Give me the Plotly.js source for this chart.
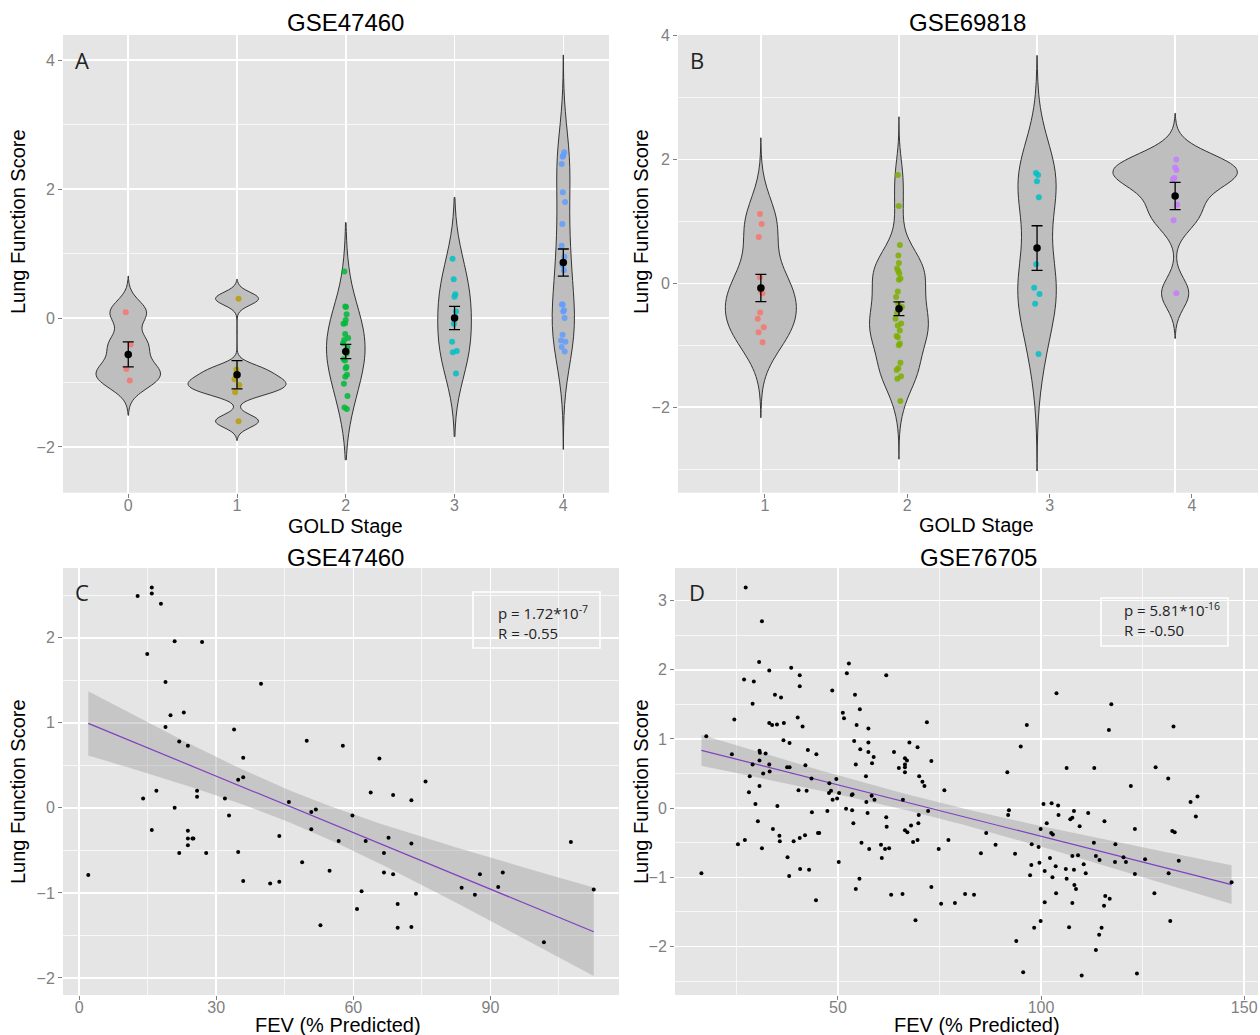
<!DOCTYPE html>
<html><head><meta charset="utf-8">
<script src="https://cdn.plot.ly/plotly-3.0.1.min.js"></script>
<style>html,body{margin:0;padding:0;background:#fff}</style>
</head><body><div id="chart" style="width:1260px;height:1035px"></div>
<script>
// ---------- Panel A (GSE47460, violins by GOLD stage) ----------
const A_stages = [0, 1, 2, 3, 4];
const A_colors = ['#F8766D', '#B79F00', '#00BA38', '#00BFC4', '#619CFF'];
const A0 = [0.09, -0.41, -0.79, -0.97];
const A1 = [0.30, -0.80, -0.95, -1.04, -1.15, -1.60];
const A2 = [0.72, 0.17, 0.18, 0.06, -0.03, -0.08, -0.09, -0.25, -0.31, -0.34, -0.39, -0.45, -0.52, -0.55, -0.64, -0.66, -0.76, -0.78, -0.88, -0.91, -1.02, -1.21, -1.39, -1.41];
const A3 = [0.92, 0.60, 0.37, 0.33, 0.10, -0.09, -0.37, -0.51, -0.53, -0.86];
const A4 = [2.57, 2.52, 2.50, 2.39, 1.95, 1.80, 1.46, 1.12, 0.95, 0.82, 0.74, 0.21, 0.21, 0.12, 0.10, 0.00, -0.26, -0.35, -0.37, -0.45, -0.52];
const A_means = [-0.565, -0.88, -0.52, 0.0, 0.86];
const A_se = [0.194, 0.22, 0.11, 0.18, 0.21];
const A_bw = [0.18, 0.10, 0.42, 0.45, 0.53];
const A_span = [[-1.51, 0.65], [-1.90, 0.60], [-2.20, 1.48], [-1.84, 1.87], [-2.04, 4.08]];

// ---------- Panel B (GSE69818) ----------
const B_stages = [1, 2, 3, 4];
const B_colors = ['#F8766D', '#7CAE00', '#00BFC4', '#C77CFF'];
const B1 = [1.12, 0.96, 0.75, 0.10, -0.07, -0.12, -0.16, -0.47, -0.57, -0.71, -0.79, -0.95];
const B2 = [1.75, 1.25, 0.62, 0.45, 0.33, 0.24, 0.20, 0.16, 0.08, 0.06, -0.13, -0.22, -0.33, -0.38, -0.48, -0.57, -0.65, -0.68, -0.76, -0.85, -0.87, -0.97, -1.00, -1.28, -1.37, -1.40, -1.50, -1.54, -1.90];
const B3 = [1.78, 1.75, 1.65, 1.39, 0.31, -0.07, -0.17, -0.33, -1.14];
const B4 = [2.00, 1.87, 1.83, 1.70, 1.68, 1.27, 1.02, -0.16];
const B_means = [-0.075, -0.41, 0.57, 1.41];
const B_se = [0.22, 0.11, 0.36, 0.22];
const B_bw = [0.41, 0.30, 0.63, 0.245];
const B_span = [[-2.17, 2.35], [-2.84, 2.69], [-3.03, 3.68], [-0.89, 2.745]];

// ---------- Panel C (GSE47460, FEV vs score) ----------
const Cx = [12.8,15.9,15.9,17.9,20.9,26.9,14.9,18.9,39.8,20.0,
  22.9,18.9,33.9,21.9,23.8,49.8,57.7,35.9,65.7,34.8,
  35.9,75.8,16.9,14.0,25.8,25.8,31.9,63.8,68.7,72.7,
  45.9,20.9,50.8,51.8,32.8,59.8,15.9,23.8,50.8,23.8,
  24.8,25.0,23.8,43.8,56.8,62.7,67.7,72.7,21.9,27.8,
  34.8,66.7,48.8,2.0,54.8,66.7,68.7,35.9,41.8,43.8,
  87.7,92.7,83.7,91.7,86.6,107.6,112.6,61.8,73.7,60.8,
  69.7,52.8,69.7,72.7,101.7];
const Cy = [2.49,2.59,2.52,2.40,1.96,1.95,1.81,1.48,1.46,1.09,
  1.12,0.95,0.92,0.78,0.73,0.79,0.73,0.59,0.58,0.33,
  0.36,0.31,0.20,0.11,0.20,0.13,0.11,0.18,0.15,0.09,
  0.07,0.00,-0.05,-0.02,-0.09,-0.09,-0.26,-0.27,-0.25,-0.36,
  -0.36,-0.36,-0.44,-0.33,-0.39,-0.39,-0.35,-0.42,-0.53,-0.53,
  -0.52,-0.53,-0.64,-0.79,-0.74,-0.76,-0.78,-0.86,-0.89,-0.87,
  -0.78,-0.76,-0.94,-0.93,-1.02,-0.40,-0.96,-0.98,-1.01,-1.19,
  -1.13,-1.38,-1.41,-1.40,-1.58];

// ---------- Panel D (GSE76705) ----------
const Dx = [27.3,31.3,30.6,33.1,38.5,40.6,40.6,26.9,29.3,29.0,
  34.5,36.0,24.5,33.1,33.8,35.0,36.7,40.1,41.3,17.6,
  36.6,38.1,23.9,30.7,30.8,32.2,42.6,44.7,30.7,29.0,
  33.1,37.5,38.1,42.0,33.2,31.6,28.3,43.5,30.7,28.1,
  40.3,42.3,29.7,35.1,30.3,34.0,43.6,35.6,35.7,39.1,
  40.6,41.9,45.1,45.4,25.4,27.1,31.3,37.6,38.0,40.7,
  42.9,44.6,16.4,
  48.6,51.2,51.5,52.2,52.7,54.2,55.4,54.6,57.5,54.0,
  57.5,55.5,57.5,58.8,58.4,54.4,61.9,63.8,56.9,67.6,
  69.6,66.5,67.0,66.5,66.5,65.0,66.5,71.9,73.0,70.0,
  70.8,71.3,49.6,47.9,48.3,47.8,48.7,49.8,50.3,53.4,
  53.6,58.3,59.0,57.0,66.0,52.0,53.5,47.4,57.3,53.8,
  61.9,62.0,69.9,72.2,76.2,68.0,69.8,66.5,67.1,55.8,
  57.7,60.6,61.6,62.6,60.8,68.5,69.6,77.2,74.8,50.2,
  55.3,54.4,63.1,65.9,73.0,75.4,78.8,81.3,83.5,69.1,
  85.2,86.5,88.8,
  91.7,95.0,96.5,91.9,92.1,93.6,97.3,97.6,97.7,99.4,
  99.6,99.9,100.6,100.9,101.4,102.5,102.9,102.6,103.8,104.2,
  104.3,102.2,103.6,102.8,103.7,100.9,99.9,98.3,93.9,95.6,
  106.3,106.1,106.3,106.9,107.2,107.7,108.1,107.7,108.1,108.2,
  108.6,107.7,109.1,109.5,110.5,111.0,110.0,111.6,113.1,113.0,
  113.5,114.4,113.5,114.3,114.9,115.6,115.5,115.8,116.9,116.7,
  117.3,118.3,118.2,120.3,120.9,122.1,123.1,123.1,123.6,125.6,
  127.9,128.2,131.3,132.6,132.3,132.9,131.4,131.8,133.9,136.8,
  138.5,138.1,146.9];
const Dy = [3.19,2.70,2.11,1.99,2.03,1.92,1.76,1.86,1.83,1.51,
  1.64,1.60,1.28,1.23,1.20,1.21,1.23,1.31,1.18,1.04,
  0.98,0.94,0.78,0.83,0.80,0.79,0.84,0.78,0.69,0.63,
  0.63,0.59,0.59,0.62,0.53,0.50,0.46,0.43,0.32,0.23,
  0.26,0.25,0.06,0.03,-0.19,-0.30,-0.06,-0.40,-0.48,-0.48,
  -0.43,-0.39,-0.36,-0.36,-0.52,-0.46,-0.58,-0.71,-0.98,-0.88,
  -0.89,-1.33,-0.94,
  1.70,1.38,1.30,1.95,2.09,1.64,1.43,1.20,1.15,0.97,
  0.95,0.85,0.81,0.74,0.65,0.63,1.92,0.81,0.46,0.95,
  0.88,0.72,0.69,0.63,0.59,0.58,0.52,1.24,0.68,0.46,
  0.38,0.32,0.42,0.36,0.25,0.22,0.12,0.14,0.22,0.19,
  0.20,0.18,0.12,0.09,0.12,-0.01,-0.03,-0.04,-0.07,-0.22,
  -0.13,-0.27,-0.10,-0.04,0.26,-0.25,-0.22,-0.32,-0.35,-0.50,
  -0.59,-0.53,-0.59,-0.58,-0.72,-0.49,-0.46,-0.46,-0.59,-0.78,
  -1.02,-1.17,-1.25,-1.24,-1.14,-1.38,-1.37,-1.24,-1.25,-1.62,
  -0.65,-0.36,-0.53,
  0.52,0.89,1.20,-0.10,-0.03,-0.66,-0.97,-0.82,-0.52,-0.56,
  -0.79,-0.30,0.06,-0.91,-0.22,-0.36,-0.38,0.07,1.66,0.04,
  -0.10,-0.72,-0.84,-1.00,-1.23,-1.36,-1.63,-1.73,-1.92,-2.37,
  0.58,-0.88,-1.02,-1.72,-0.16,-0.14,-0.04,-0.69,-0.89,-1.11,
  -1.17,-1.37,-0.68,-0.26,-0.81,-0.94,-2.42,-0.07,0.58,-0.50,
  -0.69,-0.75,-2.05,-1.83,-1.73,-0.19,-1.41,-1.27,-1.31,1.13,
  1.50,-0.52,-0.78,-0.71,-0.78,0.32,-0.30,-0.95,-2.39,-0.74,
  -1.23,0.59,0.43,1.18,-0.33,-0.35,-0.94,-1.63,-0.76,0.09,
  0.17,-0.12,-1.07];

const C_stats = ['p = 1.72*10<sup>-7</sup>', 'R = -0.55'];
const D_stats = ['p = 5.81*10<sup>-16</sup>', 'R = -0.50'];

// ---------- helpers ----------
const W = 1260, H = 1035;
const px = v => v / W;
const py = v => 1 - v / H;
const SANS = 'Liberation Sans, Arial, sans-serif';
const MYR = 'Open Sans, Noto Sans, sans-serif';

function violin(stage, vals, color, bw, span, xa, ya, grp) {
  return {
    type: 'violin', x: vals.map(() => stage), y: vals, xaxis: xa, yaxis: ya,
    scalegroup: grp, scalemode: 'width', bandwidth: bw, spanmode: 'manual', span: span,
    fillcolor: '#BEBEBE', line: {color: '#333333', width: 1},
    points: 'all', jitter: 0.06, pointpos: 0,
    marker: {color: color, size: 6, opacity: 0.85, line: {width: 0}},
    box: {visible: false}, meanline: {visible: false},
    showlegend: false, hoverinfo: 'y', name: String(stage)
  };
}
function meanTrace(xs, ms, se, xa, ya) {
  return {type: 'scatter', mode: 'markers', x: xs, y: ms, xaxis: xa, yaxis: ya,
    marker: {color: '#000', size: 7.5},
    error_y: {type: 'data', array: se, visible: true, color: '#000', thickness: 1.3, width: 5.5},
    showlegend: false, hoverinfo: 'y'};
}
function tq(df) { // approx 97.5% t quantile
  const z = 1.959964;
  return z + (z*z*z + z) / (4*df) + (5*Math.pow(z,5) + 16*z*z*z + 3*z) / (96*df*df);
}
function fitTraces(xs, ys, xa, ya) {
  const n = xs.length;
  const mx = xs.reduce((a,b)=>a+b,0)/n, my = ys.reduce((a,b)=>a+b,0)/n;
  let sxx = 0, sxy = 0;
  for (let i=0;i<n;i++){ sxx += (xs[i]-mx)**2; sxy += (xs[i]-mx)*(ys[i]-my); }
  const b = sxy/sxx, a = my - b*mx;
  let sse = 0;
  for (let i=0;i<n;i++){ sse += (ys[i]-a-b*xs[i])**2; }
  const s = Math.sqrt(sse/(n-2)), t = tq(n-2);
  const lo = Math.min(...xs), hi = Math.max(...xs);
  const gx = [], fy = [], up = [], dn = [];
  for (let k=0;k<=80;k++){
    const x = lo + (hi-lo)*k/80;
    const f = a + b*x, h = t*s*Math.sqrt(1/n + (x-mx)**2/sxx);
    gx.push(x); fy.push(f); up.push(f+h); dn.push(f-h);
  }
  return [
    {type:'scatter', mode:'lines', x: gx.concat(gx.slice().reverse()), y: up.concat(dn.slice().reverse()),
     fill:'toself', fillcolor:'rgba(153,153,153,0.4)', line:{width:0}, xaxis:xa, yaxis:ya, showlegend:false, hoverinfo:'skip'},
    {type:'scatter', mode:'lines', x: gx, y: fy, line:{color:'#8040C0', width:1.2}, xaxis:xa, yaxis:ya, showlegend:false, hoverinfo:'skip'}
  ];
}

const traces = [];
const Adata = [A0, A1, A2, A3, A4];
A_stages.forEach((s,i)=>traces.push(violin(s, Adata[i], A_colors[i], A_bw[i], A_span[i], 'x', 'y', 'A')));
const Bdata = [B1, B2, B3, B4];
B_stages.forEach((s,i)=>traces.push(violin(s, Bdata[i], B_colors[i], B_bw[i], B_span[i], 'x2', 'y2', 'B')));
traces.push(meanTrace(A_stages, A_means, A_se, 'x', 'y'));
traces.push(meanTrace(B_stages, B_means, B_se, 'x2', 'y2'));
// B tick-label axis (labels are set slightly offset in the original figure)
traces.push({type:'scatter', mode:'markers', x:B_stages, y:B_means, xaxis:'x5', yaxis:'y2',
  marker:{opacity:0}, showlegend:false, hoverinfo:'skip'});
fitTraces(Cx, Cy, 'x3', 'y3').forEach(t=>traces.push(t));
traces.push({type:'scatter', mode:'markers', x:Cx, y:Cy, xaxis:'x3', yaxis:'y3',
  marker:{color:'#000', size:4}, showlegend:false});
fitTraces(Dx, Dy, 'x4', 'y4').forEach(t=>traces.push(t));
traces.push({type:'scatter', mode:'markers', x:Dx, y:Dy, xaxis:'x4', yaxis:'y4',
  marker:{color:'#000', size:4}, showlegend:false});

const tickfont = {family: SANS, size: 16, color: '#7F7F7F'};
function ax(extra) {
  return Object.assign({showline:false, zeroline:false, ticks:'outside', ticklen:4, tickwidth:1,
    tickcolor:'#7F7F7F', tickfont: tickfont, showgrid:true, gridcolor:'#FFFFFF', gridwidth:1.6,
    fixedrange:true, type:'linear'}, extra);
}
function xax(extra) { return ax(Object.assign({ticklabelstandoff:-6}, extra)); }
function minor(d) { return {dtick:d, showgrid:true, gridcolor:'#FFFFFF', gridwidth:0.7, ticks:''}; }

const domA_y = [py(492.7), py(35)];
const domC_y = [py(995), py(568)];

const annotations = [];
function txt(t, x, y, size, opts) {
  annotations.push(Object.assign({text:t, x:px(x), y:py(y), xref:'paper', yref:'paper', showarrow:false,
    xanchor:'center', yanchor:'middle', font:{family:SANS, size:size, color:'#000'}}, opts||{}));
}
txt('GSE47460', 345, 22, 24);
txt('GSE69818', 967, 22, 24);
txt('GSE47460', 345, 557, 24);
txt('GSE76705', 978, 557, 24);
txt('GOLD Stage', 345, 526, 20);
txt('GOLD Stage', 976, 525, 20);
txt('FEV (% Predicted)', 338, 1025, 20);
txt('FEV (% Predicted)', 977, 1025, 20);
txt('Lung Function Score', 18, 222, 20, {textangle:-90});
txt('Lung Function Score', 641, 222, 20, {textangle:-90});
txt('Lung Function Score', 18, 792, 20, {textangle:-90});
txt('Lung Function Score', 641, 792, 20, {textangle:-90});
txt('A', 82, 60, 22, {font:{family:MYR, size:22, color:'#222'}});
txt('B', 697, 60, 22, {font:{family:MYR, size:22, color:'#222'}});
txt('C', 82, 592, 22, {font:{family:MYR, size:22, color:'#222'}});
txt('D', 697, 592, 22, {font:{family:MYR, size:22, color:'#222'}});
txt(C_stats.join('<br>'), 496, 622, 15, {xanchor:'left', align:'left', font:{family:MYR, size:15, color:'#222'}});
txt(D_stats.join('<br>'), 1122, 619, 15, {xanchor:'left', align:'left', font:{family:MYR, size:15, color:'#222'}});

const shapes = [
  {type:'rect', xref:'paper', yref:'paper', x0:px(473), x1:px(600), y0:py(648), y1:py(592), line:{color:'#FFFFFF', width:1.6}},
  {type:'rect', xref:'paper', yref:'paper', x0:px(1101), x1:px(1228), y0:py(646), y1:py(598), line:{color:'#FFFFFF', width:1.6}}
];

const layout = {
  width: W, height: H, margin: {l:0, r:0, t:0, b:0},
  paper_bgcolor: '#FFFFFF', plot_bgcolor: '#E5E5E5',
  showlegend: false, violinmode: 'overlay', violingap: 0.1, violingroupgap: 0,
  font: {family: SANS},
  xaxis: xax({domain:[px(63), px(609)], range:[-0.6, 4.42], tickvals:A_stages, anchor:'y'}),
  yaxis: ax({domain:domA_y, range:[-2.71, 4.39], dtick:2, tick0:0, minor:minor(1), anchor:'x'}),
  xaxis2: ax({domain:[px(678), px(1258)], range:[0.4, 4.6], tickvals:B_stages, ticks:'', showticklabels:false, anchor:'y2'}),
  yaxis2: ax({domain:domA_y, range:[-3.38, 4.01], dtick:2, tick0:0, minor:minor(1), anchor:'x2'}),
  xaxis5: xax({domain:[px(678), px(1258)], range:[0.389, 4.464], tickvals:B_stages, showgrid:false, overlaying:'x2', anchor:'y2'}),
  xaxis3: xax({domain:[px(63), px(619)], range:[-3.53, 118.13], dtick:30, tick0:0, minor:minor(15), anchor:'y3'}),
  yaxis3: ax({domain:domC_y, range:[-2.2, 2.82], dtick:1, tick0:0, minor:minor(0.5), anchor:'x3'}),
  xaxis4: xax({domain:[px(675), px(1258)], range:[9.9, 153.4], dtick:50, tick0:0, minor:minor(25), anchor:'y4'}),
  yaxis4: ax({domain:domC_y, range:[-2.70, 3.47], dtick:1, tick0:0, minor:minor(0.5), anchor:'x4'}),
  annotations: annotations, shapes: shapes
};

Plotly.newPlot('chart', traces, layout, {displayModeBar:false, staticPlot:true});
</script></body></html>
